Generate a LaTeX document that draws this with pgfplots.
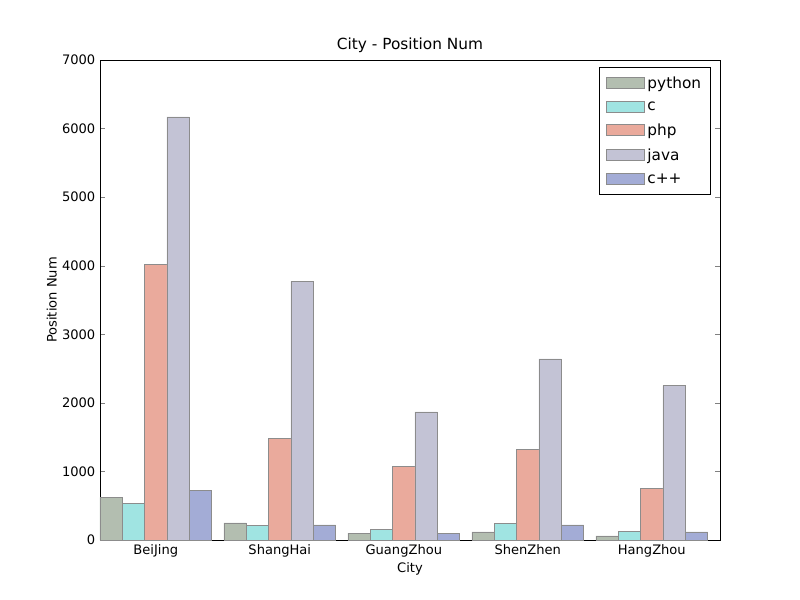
\documentclass[border=0pt]{standalone}
\usepackage{pgfplots}
\pgfplotsset{compat=1.18}
\usepackage{fontspec}
\setmainfont{DejaVu Sans}
\definecolor{cpy}{HTML}{B3BEB0}
\definecolor{cc}{HTML}{A0E4E2}
\definecolor{cphp}{HTML}{EAAA9C}
\definecolor{cjava}{HTML}{C3C3D5}
\definecolor{ccpp}{HTML}{A3ACD6}
\begin{document}
\begin{tikzpicture}
\path[use as bounding box] (-75pt,-45pt) rectangle (525pt,405pt);
\begin{axis}[at={(0,0)},anchor=south west,
 scale only axis, width=465pt, height=360pt,
 ybar=0pt, bar width=0.18,
 xmin=-0.45, xmax=4.55, ymin=0, ymax=7000,
 xtick={0,1,2,3,4}, xticklabels={BeiJing,ShangHai,GuangZhou,ShenZhen,HangZhou},
 ytick={0,1000,...,7000},
 tick align=inside, xtick pos=bottom,
 major tick length=4pt,
 tick label style={font=\fontsize{9.8}{11}\selectfont},
 /pgf/number format/assume math mode=true,
 scaled y ticks=false, yticklabel style={/pgf/number format/1000 sep={}},
 title={City - Position Num}, title style={font=\fontsize{11.5}{13}\selectfont, yshift=-4pt},
 xlabel={City}, ylabel={Position Num},
 xlabel style={yshift=3pt}, ylabel style={yshift=-3pt},
 label style={font=\fontsize{9.8}{11}\selectfont},
 legend style={at={(0.985,0.985)},anchor=north east, font=\fontsize{11.5}{13}\selectfont, draw=black, row sep=4.5pt, inner xsep=5pt, inner ysep=5pt},
 legend cell align=left,
 legend image code/.code={\draw[#1] (0cm,-0.13cm) rectangle (1.0cm,0.16cm);},
]
\addplot[fill=cpy,draw=black!45] coordinates {(0,620)(1,250)(2,100)(3,120)(4,60)};
\addplot[fill=cc,draw=black!45] coordinates {(0,530)(1,210)(2,160)(3,240)(4,130)};
\addplot[fill=cphp,draw=black!45] coordinates {(0,4020)(1,1480)(2,1070)(3,1320)(4,750)};
\addplot[fill=cjava,draw=black!45] coordinates {(0,6170)(1,3770)(2,1870)(3,2640)(4,2250)};
\addplot[fill=ccpp,draw=black!45] coordinates {(0,720)(1,220)(2,100)(3,220)(4,120)};
\legend{python,c,php,java,c++}
\end{axis}
\end{tikzpicture}
\end{document}
